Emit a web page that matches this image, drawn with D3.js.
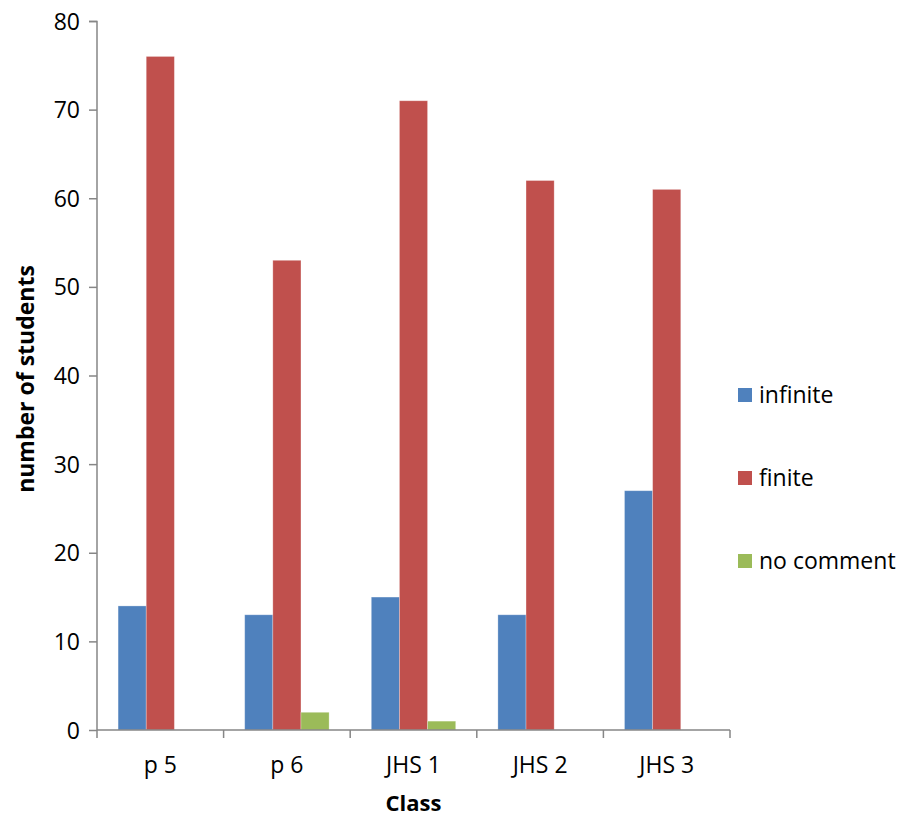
<!DOCTYPE html>
<html>
<head>
<meta charset="utf-8">
<script src="https://cdn.jsdelivr.net/npm/d3@7"></script>
<style>
  html, body { margin: 0; padding: 0; background: #fff; }
  text { font-family: "Open Sans", "Noto Sans", sans-serif; fill: #000; }
</style>
</head>
<body>
<svg id="chart" width="912" height="818"></svg>
<script>
// Class groups and student counts per answer
const classes = ["p 5", "p 6", "JHS 1", "JHS 2", "JHS 3"];
const seriesNames = ["infinite", "finite", "no comment"];
const infinite = [14, 13, 15, 13, 27];
const finite = [76, 53, 71, 62, 61];
const noComment = [0, 2, 1, 0, 0];
const yTicks = [0, 10, 20, 30, 40, 50, 60, 70, 80];
const colors = ["#4F81BD", "#C0504D", "#9BBB59"];

const seriesValues = [infinite, finite, noComment];

const svg = d3.select("#chart");
const margin = { left: 97, right: 182, top: 21, bottom: 88 };
const width = 912 - margin.left - margin.right;
const height = 818 - margin.top - margin.bottom;

const g = svg.append("g").attr("transform", `translate(${margin.left},${margin.top})`);

const x0 = d3.scaleBand().domain(classes).range([0, width]).paddingInner(0).paddingOuter(0);
const barW = x0.bandwidth() / 4.5;
const x1 = d3.scaleBand().domain(seriesNames).range([0, barW * 3]);
const y = d3.scaleLinear().domain([0, 80]).range([height, 0]);

// Bars
seriesNames.forEach((name, si) => {
  g.append("g")
    .selectAll("rect")
    .data(classes.map((c, i) => ({ c, v: seriesValues[si][i] })))
    .join("rect")
    .attr("x", d => x0(d.c) + barW * 0.75 + x1(name))
    .attr("y", d => y(d.v))
    .attr("width", x1.bandwidth())
    .attr("height", d => height - y(d.v))
    .attr("fill", colors[si])
    .attr("stroke", d => d.v > 0 ? "rgba(255,255,255,0.35)" : "none")
    .attr("stroke-width", 0.8);
});

// Y axis
const yAxis = g.append("g")
  .call(d3.axisLeft(y).tickValues(yTicks).tickSize(8).tickPadding(9));
yAxis.selectAll("text").style("font-size", "23px").attr("dy", "0.35em");
yAxis.selectAll("line, path").attr("stroke", "#868686").attr("stroke-width", 1.5);
yAxis.select(".domain").attr("d", `M-8,0.5H0V${height}`);

// X axis with category boundary ticks
const xAxisG = g.append("g").attr("transform", `translate(0,${height})`);
xAxisG.append("line")
  .attr("x1", 0).attr("x2", width).attr("y1", 0).attr("y2", 0)
  .attr("stroke", "#868686").attr("stroke-width", 1.5);
const boundaries = classes.map(c => x0(c)).concat([width]);
xAxisG.selectAll("line.tk").data(boundaries).join("line")
  .attr("class", "tk")
  .attr("x1", d => d).attr("x2", d => d)
  .attr("y1", 0).attr("y2", 8)
  .attr("stroke", "#868686").attr("stroke-width", 1.5);
xAxisG.selectAll("text.cat").data(classes).join("text")
  .attr("class", "cat")
  .attr("x", d => x0(d) + x0.bandwidth() / 2)
  .attr("y", 43)
  .attr("text-anchor", "middle")
  .style("font-size", "23px")
  .text(d => d);

// Axis titles
svg.append("text")
  .attr("x", margin.left + width / 2)
  .attr("y", 811)
  .attr("text-anchor", "middle")
  .style("font-size", "22px")
  .style("font-weight", "bold")
  .text("Class");

svg.append("text")
  .attr("transform", `translate(34,379) rotate(-90)`)
  .attr("text-anchor", "middle")
  .style("font-size", "23px")
  .style("font-weight", "bold")
  .text("number of students");

// Legend
const legend = svg.append("g");
seriesNames.forEach((name, i) => {
  const ly = 395 + i * 83;
  legend.append("rect")
    .attr("x", 738).attr("y", ly - 7)
    .attr("width", 14).attr("height", 14)
    .attr("fill", colors[i]);
  legend.append("text")
    .attr("x", 759).attr("y", ly)
    .attr("dy", "0.35em")
    .style("font-size", "23px")
    .text(name);
});
</script>
</body>
</html>
